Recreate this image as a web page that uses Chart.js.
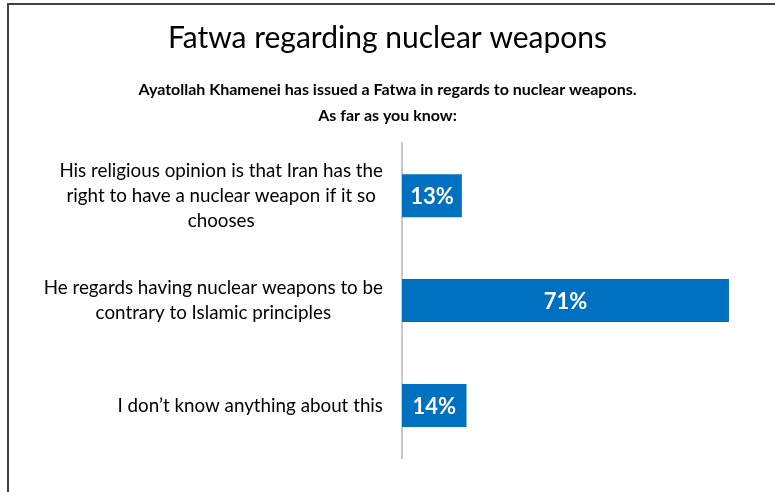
<!DOCTYPE html>
<html>
<head>
<meta charset="utf-8">
<script src="https://cdn.jsdelivr.net/npm/chart.js@4"></script>
<style>
  body { margin: 0; background: #fff; }
  canvas { display: block; }
</style>
</head>
<body>
<canvas id="chart" width="775" height="492"></canvas>
<script>
const categories = [
  ["His religious opinion is that Iran has the", "right to have a nuclear weapon if it so", "chooses"],
  ["He regards having nuclear weapons to be", "contrary to Islamic principles"],
  ["I don’t know anything about this"],
];
const values = [13, 71, 14];

const FONT = "Lato, 'Open Sans', sans-serif";

// frame lines (top + left) like the original slide
const frame = {
  id: "frame",
  beforeDraw(chart) {
    const c = chart.ctx;
    c.save();
    c.strokeStyle = "#404040";
    c.lineWidth = 2;
    c.beginPath();
    c.moveTo(8, 492);
    c.lineTo(8, 4);
    c.lineTo(775, 4);
    c.stroke();
    c.restore();
  },
};

// category text: block right-aligned to the axis, lines centred inside the block
const catLabels = {
  id: "catLabels",
  afterDraw(chart) {
    const c = chart.ctx;
    const yScale = chart.scales.y;
    c.save();
    c.font = "18.8px " + FONT;
    c.fillStyle = "#000";
    c.textAlign = "center";
    c.textBaseline = "middle";
    const right = 383;
    const lh = 25;
    categories.forEach((lines, i) => {
      const w = Math.max(...lines.map((l) => c.measureText(l).width));
      const cx = right - w / 2;
      const y0 = yScale.getPixelForValue(i) - ((lines.length - 1) * lh) / 2;
      lines.forEach((l, j) => c.fillText(l, cx, y0 + j * lh));
    });
    c.restore();
  },
};

// value labels inside the bars
const valueLabels = {
  id: "valueLabels",
  afterDatasetsDraw(chart) {
    const c = chart.ctx;
    const meta = chart.getDatasetMeta(0);
    c.save();
    c.font = "bold 22px " + FONT;
    c.fillStyle = "#fff";
    c.textAlign = "center";
    c.textBaseline = "middle";
    meta.data.forEach((bar, i) => {
      c.fillText(values[i] + "%", (bar.x + bar.base) / 2, bar.y + 1);
    });
    c.restore();
  },
};

new Chart(document.getElementById("chart"), {
  type: "bar",
  data: {
    labels: categories,
    datasets: [
      {
        data: values,
        backgroundColor: "#0070C0",
        borderWidth: 0,
        categoryPercentage: 1,
        barPercentage: 0.41,
      },
    ],
  },
  options: {
    indexAxis: "y",
    responsive: false,
    animation: false,
    layout: { padding: { left: 0, right: 0, top: 0, bottom: 34 } },
    scales: {
      x: { display: false, min: 0, max: 81 },
      y: {
        grid: { display: false },
        border: { display: true, color: "#c8c8c8", width: 2 },
        ticks: { display: false },
        afterFit(scale) {
          scale.width = 402;
        },
      },
    },
    plugins: {
      legend: { display: false },
      tooltip: { enabled: false },
      title: {
        display: true,
        text: "Fatwa regarding nuclear weapons",
        color: "#000",
        font: { family: FONT, size: 30, weight: "normal", lineHeight: 1.2 },
        padding: { top: 20, bottom: 21.4 },
      },
      subtitle: {
        display: true,
        text: ["Ayatollah Khamenei has issued a Fatwa in regards to nuclear weapons.", "As far as you know:"],
        color: "#000",
        font: { family: FONT, size: 16, weight: "bold", lineHeight: 1.6 },
        padding: { top: 0, bottom: 14.6 },
      },
    },
  },
  plugins: [frame, catLabels, valueLabels],
});
</script>
</body>
</html>
